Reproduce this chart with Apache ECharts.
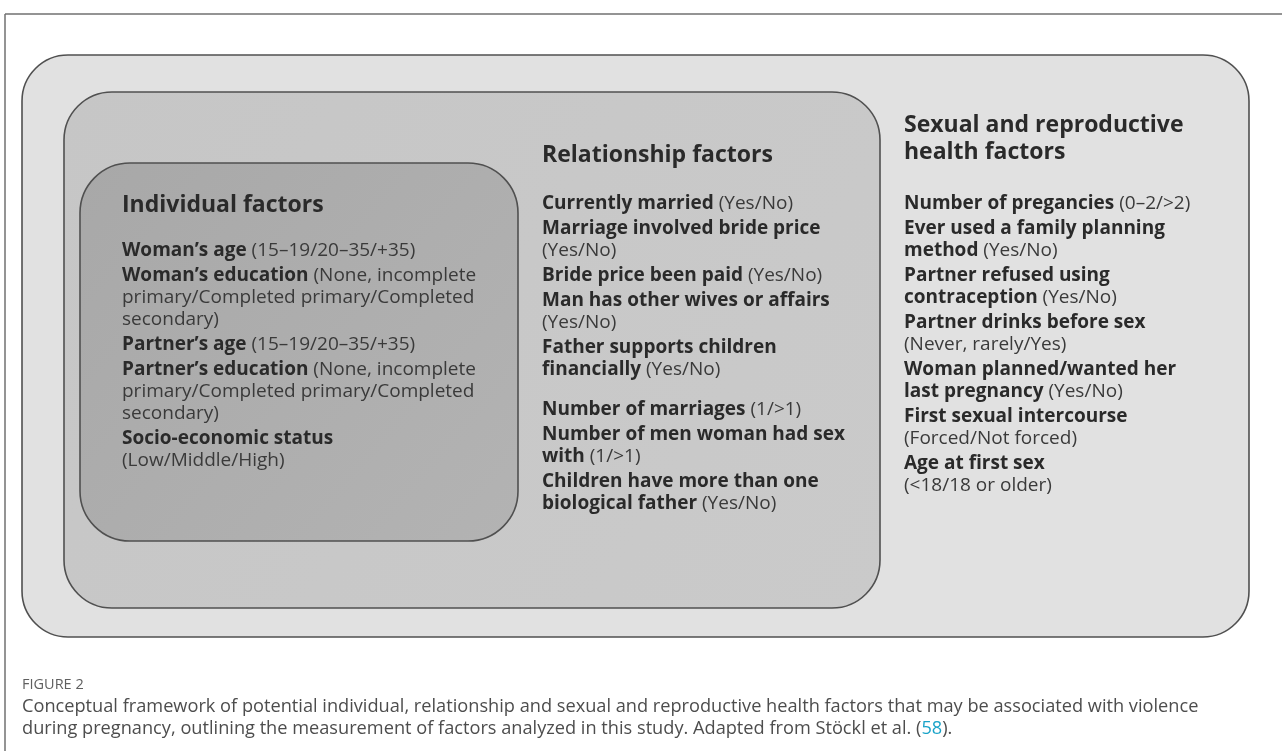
<!DOCTYPE html>
<html>
<head>
<meta charset="utf-8">
<script src="https://cdn.jsdelivr.net/npm/echarts@6/dist/echarts.min.js"></script>
<style>
  html, body { margin: 0; padding: 0; background: #ffffff; }
  #chart { width: 1282px; height: 751px; }
</style>
</head>
<body>
<div id="chart"></div>
<script>
// ---- Content (text of the conceptual framework) ----
const individualTitle = ["Individual factors"];
const individualItems = [
  [["Woman’s age", " (15–19/20–35/+35)"]],
  [["Woman’s education", " (None, incomplete"], ["", "primary/Completed primary/Completed"], ["", "secondary)"]],
  [["Partner’s age", " (15–19/20–35/+35)"]],
  [["Partner’s education", " (None, incomplete"], ["", "primary/Completed primary/Completed"], ["", "secondary)"]],
  [["Socio-economic status", ""], ["", "(Low/Middle/High)"]]
];

const relationshipTitle = ["Relationship factors"];
const relationshipItems = [
  [["Currently married", " (Yes/No)"]],
  [["Marriage involved bride price", ""], ["", "(Yes/No)"]],
  [["Bride price been paid", " (Yes/No)"]],
  [["Man has other wives or affairs", ""], ["", "(Yes/No)"]],
  [["Father supports children", ""], ["financially", " (Yes/No)"]],
  [["Number of marriages", " (1/>1)"]],
  [["Number of men woman had sex", ""], ["with", " (1/>1)"]],
  [["Children have more than one", ""], ["biological father", " (Yes/No)"]]
];

const sexualTitle = ["Sexual and reproductive", "health factors"];
const sexualItems = [
  [["Number of pregancies", " (0–2/>2)"]],
  [["Ever used a family planning", ""], ["method", " (Yes/No)"]],
  [["Partner refused using", ""], ["contraception", " (Yes/No)"]],
  [["Partner drinks before sex", ""], ["", "(Never, rarely/Yes)"]],
  [["Woman planned/wanted her", ""], ["last pregnancy", " (Yes/No)"]],
  [["First sexual intercourse", ""], ["", "(Forced/Not forced)"]],
  [["Age at first sex", ""], ["", "(<18/18 or older)"]]
];

const captionLabel = "FIGURE 2";
const captionLines = [
  ["Conceptual framework of potential individual, relationship and sexual and reproductive health factors that may be associated with violence", "", ""],
  ["during pregnancy, outlining the measurement of factors analyzed in this study. Adapted from Stöckl et al. (", "58", ")."]
];

// ---- Layout & style ----
const FONT = '"Open Sans", "Noto Sans", sans-serif';
const TEXT_DARK = '#2a2a2a';
const TEXT_REG = '#3a3a3a';
const STROKE = '#505050';
const LINE_STEP = 22;
const ITEM_GAP = 3;

const boxes = [
  { x: 22, y: 55, w: 1227, h: 582, r: 46, c1: '#e1e1e1', c2: '#e1e1e1' },
  { x: 64, y: 92, w: 816, h: 516, r: 48, c1: '#c6c6c6', c2: '#cacaca' },
  { x: 80, y: 163, w: 438, h: 378, r: 50, c1: '#a8a8a8', c2: '#b3b3b3' }
];

const panels = [
  { title: individualTitle, items: individualItems, x: 122, titleY: 205, startY: 251, extra: {} },
  { title: relationshipTitle, items: relationshipItems, x: 542, titleY: 155, startY: 204, extra: { 5: 15 } },
  { title: sexualTitle, items: sexualItems, x: 904, titleY: 125, startY: 204, extra: {} }
];

const elements = [];

// frame lines of the figure
elements.push({ type: 'line', shape: { x1: 5, y1: 14, x2: 1282, y2: 14 }, style: { stroke: '#707070', lineWidth: 1.5 } });
elements.push({ type: 'line', shape: { x1: 5, y1: 14, x2: 5, y2: 751 }, style: { stroke: '#707070', lineWidth: 1.5 } });

boxes.forEach(b => {
  elements.push({
    type: 'rect',
    shape: { x: b.x, y: b.y, width: b.w, height: b.h, r: b.r },
    style: {
      fill: new echarts.graphic.LinearGradient(0, 0, 1, 1, [
        { offset: 0, color: b.c1 }, { offset: 1, color: b.c2 }
      ]),
      stroke: STROKE,
      lineWidth: 1.6
    }
  });
});

panels.forEach(p => {
  p.title.forEach((t, i) => {
    elements.push({
      type: 'text',
      style: {
        x: p.x, y: p.titleY + i * 27,
        text: t,
        fill: TEXT_DARK,
        font: 'bold 23px ' + FONT,
        align: 'left', verticalAlign: 'middle'
      }
    });
  });
  let y = p.startY;
  p.items.forEach((item, idx) => {
    if (p.extra[idx]) y += p.extra[idx];
    item.forEach((line, li) => {
      let txt = '';
      if (line[0]) txt += '{b|' + line[0] + '}';
      if (line[1]) txt += '{n|' + line[1] + '}';
      elements.push({
        type: 'text',
        style: {
          x: p.x, y: y + li * LINE_STEP,
          text: txt,
          align: 'left', verticalAlign: 'middle',
          font: '19px ' + FONT,
          fill: TEXT_REG,
          rich: {
            b: { fontWeight: 'bold', fontSize: 19, fontFamily: FONT, fill: TEXT_DARK },
            n: { fontWeight: 'normal', fontSize: 19, fontFamily: FONT, fill: TEXT_REG }
          }
        }
      });
    });
    y += item.length * LINE_STEP + ITEM_GAP;
  });
});

// caption
elements.push({
  type: 'text',
  style: {
    x: 22, y: 685, text: captionLabel, fill: '#5f5f5f',
    font: '14.5px ' + FONT, align: 'left', verticalAlign: 'middle'
  }
});
captionLines.forEach((seg, i) => {
  let txt = '{c|' + seg[0] + '}';
  if (seg[1]) txt += '{l|' + seg[1] + '}';
  if (seg[2]) txt += '{c|' + seg[2] + '}';
  elements.push({
    type: 'text',
    style: {
      x: 22, y: 707 + i * 22,
      text: txt,
      align: 'left', verticalAlign: 'middle',
      font: '18.2px ' + FONT,
      rich: {
        c: { fontSize: 18.2, fontFamily: FONT, fill: '#4d4d4d' },
        l: { fontSize: 18.2, fontFamily: FONT, fill: '#1aa3c8' }
      }
    }
  });
});

const chart = echarts.init(document.getElementById('chart'), null, { renderer: 'canvas' });
chart.setOption({
  backgroundColor: '#ffffff',
  animation: false,
  graphic: { elements: elements }
});
</script>
</body>
</html>
